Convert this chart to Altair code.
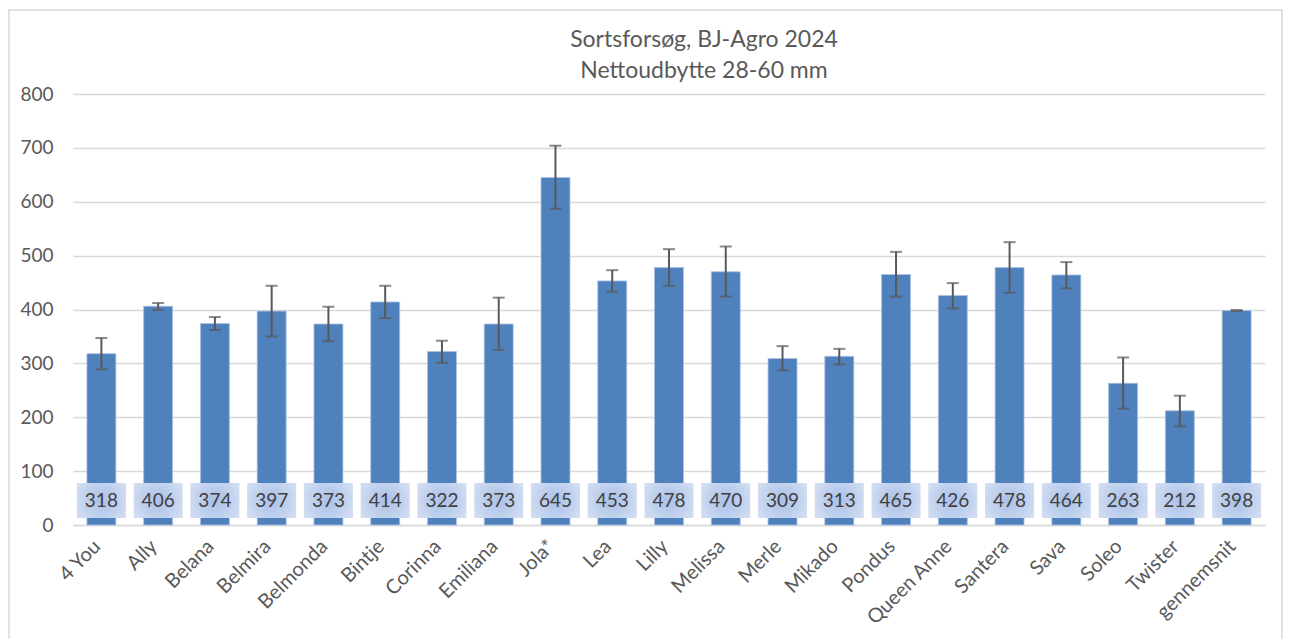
import altair as alt
import pandas as pd

categories = ["4 You", "Ally", "Belana", "Belmira", "Belmonda", "Bintje", "Corinna",
              "Emiliana", "Jola*", "Lea", "Lilly", "Melissa", "Merle", "Mikado",
              "Pondus", "Queen Anne", "Santera", "Sava", "Soleo", "Twister", "gennemsnit"]
values = [318, 406, 374, 397, 373, 414, 322, 373, 645, 453, 478, 470, 309, 313,
          465, 426, 478, 464, 263, 212, 398]
err_low = [289, 399, 362, 350, 341, 384, 301, 325, 587, 433, 444, 424, 287, 298,
           424, 402, 431, 439, 216, 183, 397]
err_high = [347, 412, 386, 444, 405, 444, 342, 422, 704, 473, 512, 517, 332, 327,
            507, 449, 525, 488, 311, 240, 399]
y_ticks = [0, 100, 200, 300, 400, 500, 600, 700, 800]

df = pd.DataFrame({"sort": categories, "udbytte": values, "lo": err_low, "hi": err_high})

W, H = 1192, 431
FONT = "Lato"
GREY = "#595959"

x_axis = alt.Axis(labelAngle=-45, labelAlign="right", labelBaseline="middle",
                  labelFontSize=20, labelColor=GREY, labelFont=FONT,
                  labelPadding=18, labelOffset=-4, ticks=False, domainColor="#d9d9d9",
                  domainWidth=1.5, grid=False, title=None)
x_enc = alt.X("sort:N", sort=None, title=None, axis=x_axis,
              scale=alt.Scale(paddingInner=0.49, paddingOuter=0.245))
y_scale = alt.Scale(domain=[0, 800], nice=False)
y_axis = alt.Axis(values=y_ticks, title=None, labelFontSize=19, labelColor=GREY,
                  labelFont=FONT, labelPadding=20, ticks=False, domain=False,
                  gridColor="#d9d9d9", gridWidth=1.5)

base = alt.Chart(df)

bars = base.mark_bar(color="#4f81bd", stroke="#a9c0e4", strokeWidth=0.8).encode(
    x=x_enc,
    y=alt.Y("udbytte:Q", scale=y_scale, axis=y_axis),
)

rules = base.mark_rule(color=GREY, strokeWidth=2).encode(
    x=x_enc, y=alt.Y("lo:Q", scale=y_scale, axis=y_axis), y2="hi:Q")
cap_lo = base.mark_tick(color=GREY, size=12, thickness=2).encode(
    x=x_enc, y=alt.Y("lo:Q", scale=y_scale, axis=y_axis))
cap_hi = base.mark_tick(color=GREY, size=12, thickness=2).encode(
    x=x_enc, y=alt.Y("hi:Q", scale=y_scale, axis=y_axis))

grad = alt.RadialGradient(
    gradient="radial", x1=0.5, y1=0.5, r1=0, x2=0.5, y2=0.5, r2=0.7,
    stops=[alt.GradientStop(color="#a9c0e8", offset=0),
           alt.GradientStop(color="#dbe4f4", offset=1)])
boxes = base.mark_bar(fill=grad, width=49).encode(
    x=x_enc, y=alt.value(H - 42), y2=alt.value(H - 7))
labels = base.mark_text(fontSize=19, color="#404040", font=FONT, baseline="middle").encode(
    x=x_enc, y=alt.value(H - 24), text="udbytte:Q")

border = alt.Chart(pd.DataFrame({"a": [0]})).mark_rect(
    fill=None, stroke="#d9d9d9", strokeWidth=1.5).encode(
    x=alt.value(-64), x2=alt.value(1209), y=alt.value(-84), y2=alt.value(H + 130))

chart = alt.layer(border, bars, rules, cap_lo, cap_hi, boxes, labels).properties(
    width=W, height=H,
    title=alt.TitleParams(text=["Sortsforsøg, BJ-Agro 2024", "Nettoudbytte 28-60 mm"],
                          frame="group"),
    padding={"left": 65, "top": 86, "right": 19, "bottom": 115},
    autosize=alt.AutoSizeParams(type="none"),
).configure_view(stroke=None).configure_title(
    fontSize=23, lineHeight=31, color=GREY, font=FONT, fontWeight="normal",
    anchor="middle", dx=35, dy=78, offset=0
)

chart.save("out.html", embed_options={"renderer": "svg", "actions": False})
